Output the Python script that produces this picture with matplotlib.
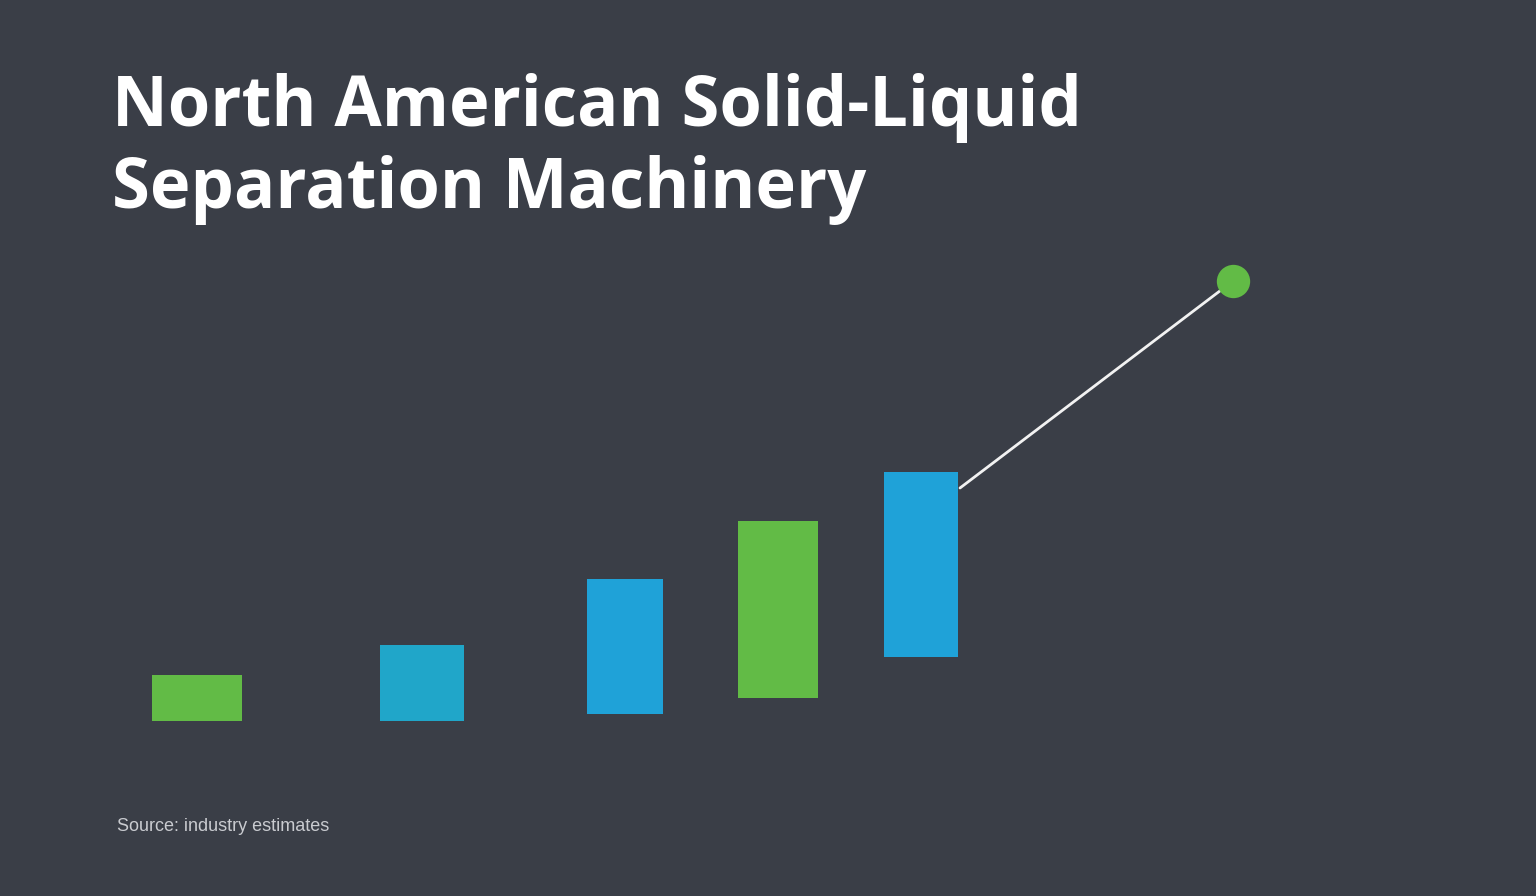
import numpy as np
import matplotlib.pyplot as plt

# bar positions and floating ranges
bar_x = [0.97, 3.22, 5.25, 6.78, 8.21]
bar_w = [0.90, 0.84, 0.76, 0.80, 0.74]
bar_low = [3.9, 3.9, 4.6, 6.2, 10.3]
bar_high = [8.5, 11.5, 18.1, 23.9, 28.8]
bar_colors = ["#62bb46", "#20a6c9", "#1fa2d8", "#62bb46", "#1fa2d8"]

# trend line to the highlight point
line_x = [8.60, 11.33]
line_y = [27.2, 47.9]

title_lines = ["North American Solid-Liquid", "Separation Machinery"]
note = "Source: industry estimates"

bg = "#3a3e47"

fig = plt.figure(figsize=(15.36, 8.96), dpi=100)
fig.patch.set_facecolor(bg)

ax = fig.add_axes([100/1536, 1 - 760/896, 1200/1536, 510/896])
ax.set_facecolor(bg)
ax.set_xlim(0, 12)
ax.set_ylim(0, 51)
ax.axis("off")

heights = np.array(bar_high) - np.array(bar_low)
ax.bar(bar_x, heights, width=bar_w, bottom=bar_low, color=bar_colors, linewidth=0)

ax.plot(line_x, line_y, color="#f2f2f2", linewidth=2, solid_capstyle="round", zorder=3)
ax.plot(line_x[-1:], line_y[-1:], "o", color="#62bb46", markersize=24, markeredgewidth=0, zorder=4)

# title, one text per line so each baseline can be placed
for txt, base in zip(title_lines, [126, 208]):
    fig.text(112/1536, 1 - base/896, txt, color="white", fontsize=49.4,
             fontweight="bold", family="Open Sans", va="baseline", ha="left")

fig.text(117/1536, 1 - 826/896, note, color="#c9cbd0", fontsize=13,
         family="Liberation Sans", va="center", ha="left")

plt.savefig("out.png", dpi=100, facecolor=bg)
